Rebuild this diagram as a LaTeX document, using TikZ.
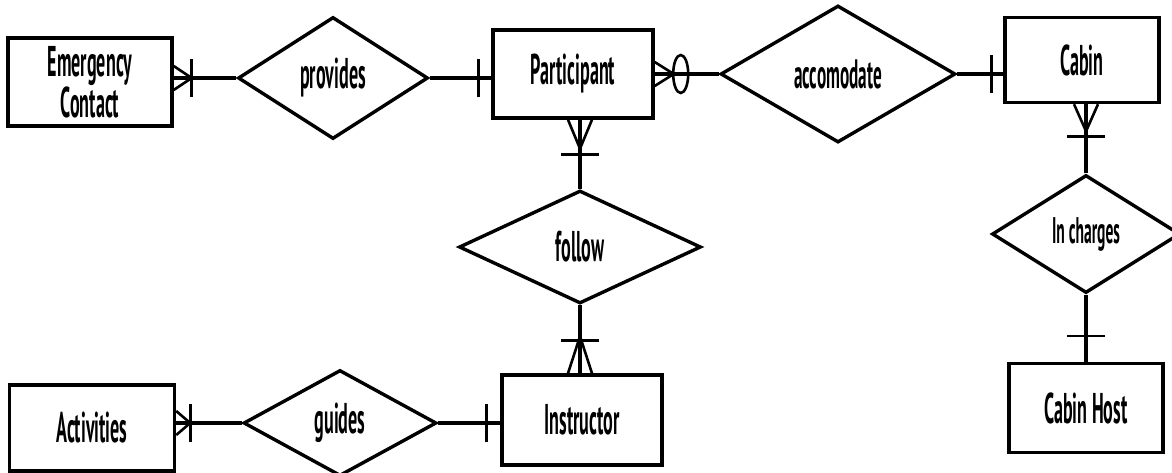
\documentclass[tikz,border=0pt]{standalone}
\usepackage{fontspec}
\setmainfont{PT Sans}[FakeStretch=0.42]
\usetikzlibrary{shapes.geometric}

\begin{document}
\begin{tikzpicture}[x=1pt,y=-1pt,
 entity/.style={draw=black,line width=3.4pt,align=center,inner sep=0pt,
                font=\fontsize{43}{38}\selectfont\bfseries},
 relation/.style={entity,diamond},
 small/.style={font=\fontsize{#1}{33}\selectfont\bfseries},
 link/.style={line width=3.4pt},
 foot/.style={line width=2.6pt},
 many/.pic={\draw[foot] (0,-12) -- (#1,0) -- (0,12) (0,0) -- (#1,0);},
 bar/.pic={\draw[foot] (#1,-19) -- (#1,19);},
 ring/.pic={\draw[foot] (#1,0) ellipse [x radius=7.5,y radius=19];}]
\useasboundingbox (0,0) rectangle (1172,472);

\node[entity,minimum width=164pt,minimum height=88pt] (contact) at (90,82) {Emergency\\Contact};
\node[relation,minimum width=190pt,minimum height=122pt] (provides) at (333,78) {provides};
\node[entity,minimum width=160pt,minimum height=88pt] (part) at (573,74) {Participant};
\node[relation,small=41,minimum width=235pt,minimum height=137pt] (acc) at (838,74) {accomodate};
\node[entity,minimum width=154pt,minimum height=85pt] (cabin) at (1082,60) {Cabin};
\node[relation,small=37,minimum width=188pt,minimum height=118pt] (inch) at (1086,234) {In charges};
\node[entity,minimum width=154pt,minimum height=89pt] (host) at (1086,408) {Cabin Host};
\node[relation,minimum width=242pt,minimum height=113pt] (follow) at (580,247) {follow};
\node[entity,minimum width=160pt,minimum height=90pt] (instr) at (582,420) {Instructor};
\node[relation,minimum width=193pt,minimum height=106pt] (guides) at (340,423) {guides};
\node[entity,minimum width=165pt,minimum height=86pt] (act) at (92,428) {Activities};

\draw[link] (contact.east |- provides.west) -- (provides.west);
\draw[link] (provides.east) -- (provides.east -| part.west);
\draw[link] (part) -- (acc);
\draw[link] (acc.east) -- (acc.east -| cabin.west);
\draw[link] (follow.north) -- (follow.north |- part.south);
\draw[link] (follow.south) -- (follow.south |- instr.north);
\draw[link] (inch.north) -- (inch.north |- cabin.south);
\draw[link] (inch) -- (host);
\draw[link] (guides.west -| act.east) -- (guides.west);
\draw[link] (guides.east) -- (guides.east -| instr.west);

\path (contact.east |- provides.west) pic {many=18} pic {bar=18};
\path (provides.east -| part.west) pic[rotate=180] {bar=13};
\path (part.east) pic {many=19} pic {ring=26};
\path (acc.east -| cabin.west) pic[rotate=180] {bar=12};
\path (follow.north |- part.south) pic[rotate=-90] {many=29} pic[rotate=-90] {bar=35};
\path (follow.south |- instr.north) pic[rotate=90] {many=37} pic[rotate=90] {bar=33};
\path (inch.north |- cabin.south) pic[rotate=-90] {many=27} pic[rotate=-90] {bar=32};
\path (host.north) pic[rotate=90] {bar=26};
\path (guides.west -| act.east) pic {many=14} pic {bar=14};
\path (guides.east -| instr.west) pic[rotate=180] {bar=14};
\end{tikzpicture}
\end{document}
